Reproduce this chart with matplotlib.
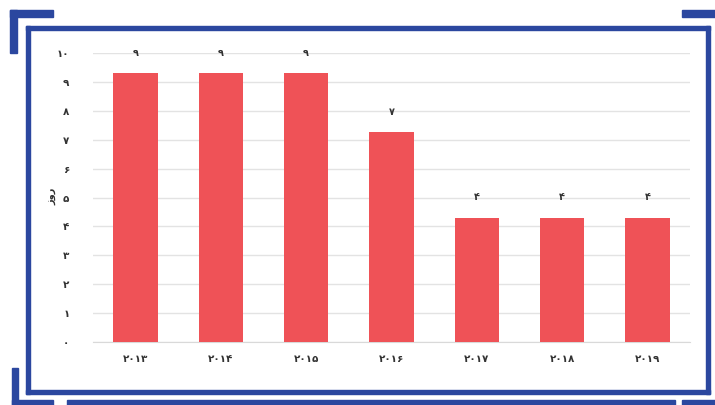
import numpy as np
import matplotlib.pyplot as plt
from matplotlib.patches import Rectangle

# Datos
years = ['۲۰۱۳', '۲۰۱۴', '۲۰۱۵', '۲۰۱۶', '۲۰۱۷', '۲۰۱۸', '۲۰۱۹']
days = [9.3, 9.3, 9.3, 7.25, 4.3, 4.3, 4.3]
bar_labels = ['۹', '۹', '۹', '۷', '۴', '۴', '۴']
y_ticks = [0, 1, 2, 3, 4, 5, 6, 7, 8, 9, 10]
y_ticklabels = ['۰', '۱', '۲', '۳', '۴', '۵', '۶', '۷', '۸', '۹', '۱۰']
y_title = 'روز'

bar_color = '#EF5257'
frame_color = '#2B479F'
grid_color = '#E3E3E3'
text_color = '#333333'

plt.rcParams['font.family'] = ['DejaVu Sans']

W, H = 715, 405
fig = plt.figure(figsize=(W / 100, H / 100), dpi=100)
fig.patch.set_facecolor('white')

ax = fig.add_axes([93 / W, (H - 342) / H, (690 - 93) / W, (342 - 53) / H])
x = np.arange(len(years))
ax.bar(x, days, width=0.52, color=bar_color, zorder=3)
for xi, v, lab in zip(x, days, bar_labels):
    ax.annotate(lab, (xi, v), xytext=(0, 11), textcoords='offset points',
                ha='center', va='bottom', fontsize=7, fontweight='bold', color=text_color)

ax.set_xlim(-0.5, len(years) - 0.5)
ax.set_ylim(0, 10)
ax.set_yticks(y_ticks)
ax.set_yticklabels(y_ticklabels, fontsize=7.5, fontweight='bold', color=text_color)
ax.set_xticks(x)
ax.set_xticklabels(years, fontsize=7.5, fontweight='bold', color=text_color)
ax.tick_params(axis='both', length=0)
ax.tick_params(axis='y', pad=17)
ax.tick_params(axis='x', pad=9)
ax.grid(axis='y', color=grid_color, linewidth=1, zorder=0)
for s in ['top', 'right', 'left']:
    ax.spines[s].set_visible(False)
ax.spines['bottom'].set_color('#D9D9D9')

# Título del eje y (letras sin enlace, orden invertido para mostrar RTL)
fig.text(52 / W, 1 - 196 / H, y_title[::-1], rotation=90, ha='center', va='center',
         fontsize=7, fontweight='bold', color=text_color)

# Marco azul
def rect_px(x0, y0, x1, y1):
    fig.patches.append(Rectangle((x0 / W, 1 - y1 / H), (x1 - x0) / W, (y1 - y0) / H,
                                 transform=fig.transFigure, color=frame_color, zorder=0))

# marco interior
rect_px(26, 26, 710, 30)
rect_px(26, 26, 30, 394)
rect_px(706, 26, 710, 394)
rect_px(26, 390, 710, 394)
# esquinas
rect_px(10, 10, 53, 17)
rect_px(10, 10, 17, 53)
rect_px(682, 10, 715, 17)
rect_px(12, 368, 18, 405)
rect_px(12, 400, 53, 405)
rect_px(67, 400, 675, 405)
rect_px(682, 400, 715, 405)

fig.savefig('out.png', dpi=100)
